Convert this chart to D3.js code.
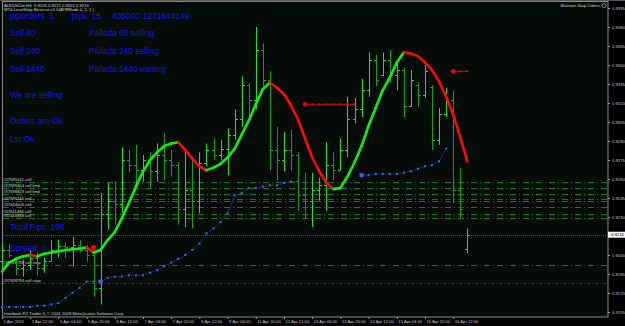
<!DOCTYPE html>
<html><head><meta charset="utf-8">
<script src="https://cdn.jsdelivr.net/npm/d3@7"></script>
<style>html,body{margin:0;padding:0;background:#000;overflow:hidden}svg{display:block}text{white-space:pre}</style>
</head><body><svg id="c" width="625" height="326"></svg>
<script>
// ---- data (AUDUSDm H4) ----
const openP  = [.9195,.9204,.9198,.9190,.9192,.9198,.9190,.9195,.9204,.9207,.9206,.9208,.9204,.9200,.9174,.9232,.9243,.9240,.9275,.9271,.9267,.9275,.9266,.9279,.9275,.9271,.9236,.9251,.9243,.9273,.9283,.9279,.9284,.9295,.9307,.9334,.9322,.9362,.9338,.9283,.9275,.9283,.9279,.9247,.9243,.9251,.9255,.9271,.9267,.9283,.9307,.9315,.9330,.9354,.9342,.9354,.9342,.9346,.9318,.9334,.9326,.9333,.9291,.9311,.9322,.9251,.9205];
const highP  = [.9209,.9209,.9198,.9196,.9204,.9202,.9198,.9212,.9212,.9210,.9214,.9212,.9208,.9202,.9249,.9257,.9258,.9285,.9283,.9287,.9279,.9281,.9288,.9296,.9283,.9273,.9281,.9275,.9281,.9288,.9292,.9291,.9300,.9315,.9341,.9336,.9380,.9367,.9345,.9301,.9297,.9299,.9281,.9265,.9265,.9261,.9289,.9281,.9292,.9325,.9324,.9339,.9360,.9358,.9360,.9362,.9352,.9348,.9346,.9336,.9352,.9334,.9316,.9332,.9330,.9269,.9221];
const lowP   = [.9190,.9198,.9184,.9183,.9188,.9184,.9186,.9195,.9198,.9198,.9191,.9202,.9195,.9167,.9161,.9220,.9224,.9233,.9265,.9257,.9258,.9253,.9258,.9259,.9262,.9224,.9222,.9221,.9233,.9270,.9275,.9275,.9263,.9291,.9301,.9307,.9315,.9333,.9267,.9259,.9266,.9267,.9235,.9229,.9222,.9243,.9235,.9259,.9267,.9277,.9304,.9309,.9325,.9333,.9341,.9336,.9330,.9309,.9317,.9317,.9324,.9283,.9287,.9309,.9241,.9229,.9201];
const closeP = [.9204,.9200,.9190,.9192,.9198,.9190,.9195,.9204,.9207,.9206,.9208,.9204,.9200,.9174,.9232,.9243,.9240,.9275,.9271,.9267,.9275,.9266,.9279,.9275,.9271,.9236,.9251,.9243,.9273,.9283,.9279,.9284,.9295,.9307,.9334,.9322,.9362,.9338,.9283,.9275,.9283,.9279,.9247,.9243,.9251,.9255,.9271,.9267,.9283,.9307,.9315,.9330,.9354,.9338,.9354,.9342,.9346,.9318,.9338,.9326,.9345,.9291,.9311,.9322,.9251,.9236,.9216];
// smoothed indicator (green rising / red falling)
const curveP = [.9187,.9194,.9197,.9199,.9200,.9199,.9201,.9202,.9203,.9204,.92045,.9205,.9206,.9202,.9204,.9212,.9218,.9229,.9241,.9254,.9266,.9275,.9281,.9286,.9288,.9289,.9283,.9276,.9270,.9267,.9269,.9272,.9277,.9284,.9295,.9306,.9319,.9331,.9336,.9332,.9327,.9318,.9307,.9292,.9277,.9266,.9257,.9252,.9253,.9262,.9273,.9286,.9302,.9316,.9330,.9340,.9352,.9360,.9359,.9357,.9352,.9346,.9337,.9325,.9311,.9293,.9274];
// blue trailing stop
const trailP = [.9159,.9159,.9159,.9159,.9159,.9160,.9160,.9161,.9162,.9166,.9170,.9174,.9179,.9179,.9179,.9182,.9183,.9183,.9184,.9184,.9184,.9186,.9188,.9191,.9194,.9197,.9200,.9204,.9209,.9217,.9221,.9226,.9233,.9247,.9249,.9253,.9253,.9254,.9255,.9255,.9257,.9258,.9258,null,null,null,null,null,null,null,null,.9263,.9263,.9264,.9264,.9264,.9264,.9265,.9266,.9268,.9270,.9271,.9274,.9284,null,null,null];
const trailBig = [14, 51];
// red signal levels
const sigPrice = [0.9319, 0.9345];
const sigStart = [43, 64];
const sigEnd   = [50, 66];
const sigDotBar = 13, sigDotPrice = 0.9206;
// pending/open order lines
const orderPrice = [0.9258,0.9253,0.9248,0.9244,0.9243,0.9238,0.9232,0.9229,0.9192,0.9178];
const orderLabel = ["#37595141 sell","#37599404 sell limit","#37598823 sell limit","","#37595146 sell","#37444005 sell","#37511484 sell","#37445868 sell","#37598786 sell stop","#37598794 sell stop"];
const bidPrice = 0.9216;
const timeLabels = ["1 Apr 2010","2 Apr 12:00","5 Apr 04:00","5 Apr 20:00","6 Apr 12:00","7 Apr 04:00","7 Apr 20:00","8 Apr 12:00","9 Apr 04:00","11 Apr 20:00","12 Apr 12:00","13 Apr 04:00","13 Apr 20:00","14 Apr 12:00","15 Apr 04:00","15 Apr 20:00","16 Apr 12:00"];
const priceTicks = [0.9395,0.9380,0.9365,0.9350,0.9335,0.9320,0.9305,0.9290,0.9275,0.9260,0.9245,0.9230,0.9200,0.9185,0.9170,0.9155];
const infoLeft = [["piporders  5",18.5],["Sell 60",36],["Sell 240",54],["Sell 1440",72],["We are selling",98],["Orders are Ok",124],["Lsr Ok",142],["Total Pips  198",230],["Spread  4",251]];
const infoRight = [["Pallada 60 selling",36],["Pallada 240 selling",54],["Pallada 1440 waiting",72]];
const infoTop = [["pips  15",72],["405000",112],["1271644149",143]];

// ---- drawing ----
const svg = d3.select("#c");
const n = closeP.length;
const x = d3.scaleLinear().domain([0, 66]).range([2, 467.3]);
const y = d3.scaleLinear().domain([0.9155, 0.9395]).range([312, 8]);
const px = k => Math.round(x(k)) + 0.5;
const small = "Liberation Sans, Arial, sans-serif";

svg.append("rect").attr("width",625).attr("height",326).attr("fill","#000");
svg.append("rect").attr("x",2.5).attr("y",1.5).attr("width",605.5).attr("height",315.5)
  .attr("fill","#060c08").attr("stroke","#8c8c8c").attr("stroke-width",1);
svg.append("rect").attr("x",0).attr("y",0).attr("width",625).attr("height",1).attr("fill","#555");

// order lines
const og = svg.append("g");
orderPrice.forEach((p,i)=>{
  const yy = Math.round(y(p))+0.5;
  og.append("line").attr("x1",3).attr("x2",607).attr("y1",yy).attr("y2",yy)
    .attr("stroke", i===9 ? "#0b5a0b" : "#157a15").attr("stroke-width",1)
    .attr("stroke-dasharray", i===9 ? "3,2,1,2" : "6,3,1,3");
  if (orderLabel[i]) og.append("text").attr("x",3).attr("y",yy-1.8)
    .attr("font-family",small).attr("font-size",4.2).attr("fill","#d0d0d0").text(orderLabel[i]);
});
// bid line
const by = Math.round(y(bidPrice))+0.5;
svg.append("line").attr("x1",3).attr("x2",607).attr("y1",by).attr("y2",by)
  .attr("stroke","#4a4a4a").attr("stroke-dasharray","1,1");

// bars
const bg = svg.append("g");
d3.range(n).forEach(k=>{
  const xx = px(k);
  const up = closeP[k] >= openP[k];
  const col = up ? "#22e022" : "#13a013";
  bg.append("line").attr("x1",xx).attr("x2",xx).attr("y1",y(highP[k])).attr("y2",y(lowP[k])).attr("stroke",col);
  const yo = Math.round(y(openP[k]))+0.5, yc = Math.round(y(closeP[k]))+0.5;
  bg.append("line").attr("x1",xx-2.5).attr("x2",xx).attr("y1",yo).attr("y2",yo).attr("stroke",col);
  bg.append("line").attr("x1",xx).attr("x2",xx+2.5).attr("y1",yc).attr("y2",yc).attr("stroke",col);
});

// blue trailing stop
const tg = svg.append("g");
const tl = d3.line().defined(d=>d[1]!=null).x(d=>x(d[0])).y(d=>y(d[1]));
tg.append("path").attr("d", tl(trailP.map((v,k)=>[k,v]))).attr("fill","none")
  .attr("stroke","#2446c8").attr("stroke-width",1).attr("stroke-dasharray","1,1");
trailP.forEach((v,k)=>{
  if (v==null) return;
  const big = trailBig.includes(k), s = big ? 4 : 2;
  tg.append("rect").attr("x",x(k)-s/2).attr("y",y(v)-s/2).attr("width",s).attr("height",s).attr("fill","#3a68ee");
});

// smoothed curve
const cg = svg.append("g");
const cl = d3.line().x(d=>x(d[0])).y(d=>y(d[1]));
for (let k=1;k<n;k++){
  const down = curveP[k] < curveP[k-1];
  cg.append("path").attr("d", cl([[k-1,curveP[k-1]],[k,curveP[k]]])).attr("fill","none")
    .attr("stroke", down ? "#ff0a0a" : "#10f010").attr("stroke-width",2.6).attr("stroke-linecap","round");
}

// red signals
const rg = svg.append("g");
sigPrice.forEach((p,i)=>{
  const yy = y(p);
  rg.append("line").attr("x1",x(sigStart[i])).attr("x2",x(sigEnd[i])).attr("y1",yy).attr("y2",yy).attr("stroke","#e00000").attr("stroke-width",1);
  d3.range(sigStart[i], sigEnd[i]+1).forEach(k=>{
    rg.append("circle").attr("cx",x(k)).attr("cy",yy).attr("r", k===sigStart[i]?2.3:1.1).attr("fill","#f00000");
  });
});
rg.append("circle").attr("cx",x(sigDotBar)).attr("cy",y(sigDotPrice)).attr("r",2.5).attr("fill","#ff0000");

// y axis
const ya = svg.append("g").attr("transform","translate(608,0)")
  .call(d3.axisRight(y).tickValues(priceTicks).tickFormat(d3.format(".4f")).tickSize(2).tickPadding(2));
ya.select(".domain").remove();
ya.selectAll("line").attr("stroke","#9a9a9a");
ya.selectAll("text").attr("font-family",small).attr("font-size",4.2).attr("fill","#c8c8c8");
// current price box
svg.append("rect").attr("x",608).attr("y",y(bidPrice)-3).attr("width",17).attr("height",6).attr("fill","#f4f4f4");
svg.append("text").attr("x",611).attr("y",y(bidPrice)+1.5).attr("font-family",small).attr("font-size",4.2).attr("fill","#000").text(d3.format(".4f")(bidPrice));

// x axis
const xa = svg.append("g").attr("transform","translate(0,317)")
  .call(d3.axisBottom(x).tickValues(d3.range(0,65,4)).tickFormat((d,i)=>timeLabels[i]).tickSize(2));
xa.select(".domain").remove();
xa.selectAll("line").attr("stroke","#9a9a9a");
xa.selectAll("text").attr("text-anchor","start").attr("dx",1).attr("y",5).attr("dy","0.35em")
  .attr("font-family",small).attr("font-size",4.2).attr("fill","#c8c8c8");

// header / footer texts
const hdr = svg.append("g").attr("font-family",small).attr("font-size",4.2).attr("fill","#d0d0d0");
hdr.append("text").attr("x",4).attr("y",7).text("AUDUSDm,H4  0.9205 0.9221 0.9201 0.9216");
hdr.append("text").attr("x",4).attr("y",11).text("MT4-LevelStop-Reverse-v1.0(ATRMode 0, 1, 1 )");
hdr.append("text").attr("x",4).attr("y",314.5).text("Interbank FX Trader 4, © 2001-2009 MetaQuotes Software Corp.");
hdr.append("text").attr("x",600).attr("y",7).attr("text-anchor","end").text("Maintain Stop Orders");
hdr.append("circle").attr("cx",604).attr("cy",5.5).attr("r",2).attr("fill","none").attr("stroke","#d0d0d0").attr("stroke-width",0.6);

// info texts (blue)
const info = svg.append("g").attr("font-family","Liberation Sans, Arial, sans-serif").attr("font-size",8.3).attr("fill","#1414e6");
infoLeft.forEach(d=>info.append("text").attr("x",10).attr("y",d[1]).text(d[0]));
infoRight.forEach(d=>info.append("text").attr("x",89).attr("y",d[1]).text(d[0]));
infoTop.forEach(d=>info.append("text").attr("x",d[1]).attr("y",18.5).text(d[0]));
</script>
</body></html>
